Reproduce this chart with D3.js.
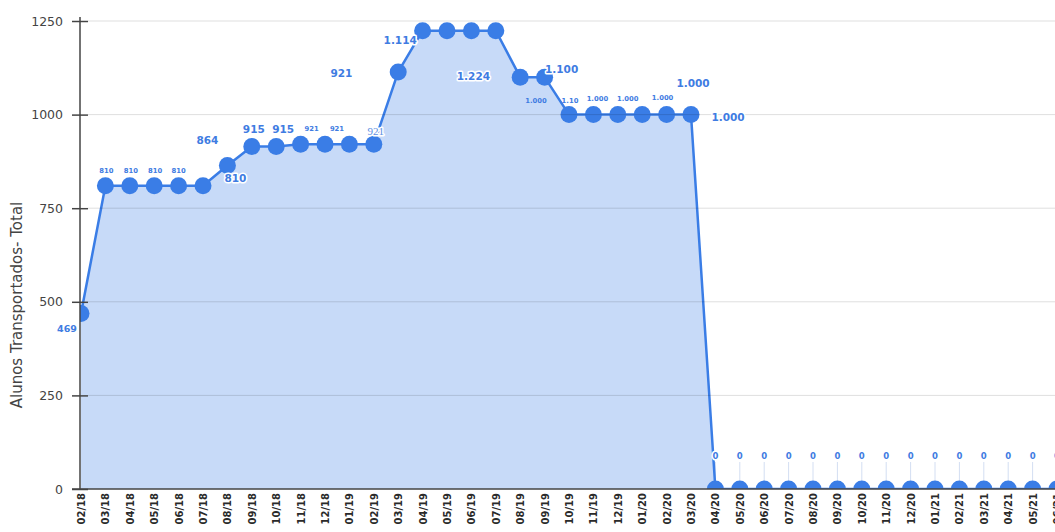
<!DOCTYPE html>
<html>
<head>
<meta charset="utf-8">
<script src="https://cdn.jsdelivr.net/npm/d3@7"></script>
<style>
  html, body { margin: 0; padding: 0; background: #fff; overflow: hidden; }
  svg { display: block; }
</style>
</head>
<body>
<svg id="chart" width="1055" height="532"></svg>
<script>
// ---- data ----
const categories = [
  "02/18","03/18","04/18","05/18","06/18","07/18","08/18","09/18","10/18","11/18","12/18",
  "01/19","02/19","03/19","04/19","05/19","06/19","07/19","08/19","09/19","10/19","11/19","12/19",
  "01/20","02/20","03/20","04/20","05/20","06/20","07/20","08/20","09/20","10/20","11/20","12/20",
  "01/21","02/21","03/21","04/21","05/21","06/21"
];
const values = [
  469, 810, 810, 810, 810, 810, 864, 915, 915, 921, 921,
  921, 921, 1114, 1224, 1224, 1224, 1224, 1100, 1100, 1000, 1000, 1000,
  1000, 1000, 1000, 0, 0, 0, 0, 0, 0, 0, 0, 0,
  0, 0, 0, 0, 0, 0
];
const yTicks = [0, 250, 500, 750, 1000, 1250];
const yTitle = "Alunos Transportados- Total";

// data label texts (as shown in the picture), keyed by category index
const labelTexts = [
  {i: 0, t: "469"},
  {i: 1, t: "810"}, {i: 2, t: "810"}, {i: 3, t: "810"}, {i: 4, t: "810"},
  {i: 6, t: "864"}, {i: 6, t: "810"},
  {i: 7, t: "915"}, {i: 8, t: "915"},
  {i: 9, t: "921"}, {i: 10, t: "921"}, {i: 11, t: "921"}, {i: 12, t: "921"},
  {i: 13, t: "1.114"}, {i: 16, t: "1.224"}, {i: 19, t: "1.100"},
  {i: 20, t: "1.000"}, {i: 20, t: "1.10"}, {i: 21, t: "1.000"}, {i: 22, t: "1.000"}, {i: 24, t: "1.000"},
  {i: 25, t: "1.000"}, {i: 25, t: "1.000"}
];
// layout of those labels (offsets from their point, size class)
const labelLayout = [
  {dx: -14, dy: 15, s: "m"},
  {dx: 1, dy: -15, s: "t"}, {dx: 1, dy: -15, s: "t"}, {dx: 1, dy: -15, s: "t"}, {dx: 0, dy: -15, s: "t"},
  {dx: -20, dy: -26, s: "b"}, {dx: 8, dy: 12, s: "b"},
  {dx: 2, dy: -17, s: "b"}, {dx: 7, dy: -17, s: "b"},
  {dx: 11, dy: -15, s: "t"}, {dx: 12, dy: -15, s: "t"}, {dx: -8, dy: -71, s: "b"}, {dx: 2, dy: -13, s: "serif"},
  {dx: 2, dy: -32, s: "b"}, {dx: 2, dy: 45, s: "b"}, {dx: 17, dy: -8, s: "b"},
  {dx: -33, dy: -14, s: "t"}, {dx: 1, dy: -14, s: "t"}, {dx: 4, dy: -16, s: "t"}, {dx: 10, dy: -16, s: "t"}, {dx: -4, dy: -17, s: "t"},
  {dx: 2, dy: -32, s: "b"}, {dx: 37, dy: 2, s: "b"}
];

// ---- drawing ----
const W = 1055, H = 532;
const svg = d3.select("#chart");
const blue = "#3a7de6";
const labelBlue = "#3f7ce2";

const x = d3.scalePoint().domain(categories).range([81, 1057]);
const y = d3.scaleLinear().domain([0, 1250]).range([489, 21]);

const defs = svg.append("defs");
defs.append("clipPath").attr("id", "plotclip")
  .append("rect").attr("x", 80).attr("y", 0).attr("width", W - 80).attr("height", 489);

const plot = svg.append("g").attr("clip-path", "url(#plotclip)");

const series = categories.map((c, i) => ({c, v: values[i]}));

// area
plot.append("path")
  .datum(series)
  .attr("fill", "#c7daf8")
  .attr("d", d3.area().x(d => x(d.c)).y0(y(0)).y1(d => y(d.v)));

// gridlines
svg.append("g").selectAll("line").data(yTicks.filter(t => t > 0)).join("line")
  .attr("x1", 88).attr("x2", W)
  .attr("y1", d => y(d)).attr("y2", d => y(d))
  .attr("stroke", "rgba(0,0,0,0.13)").attr("stroke-width", 1);

// leader lines for zero labels
plot.append("g").selectAll("line").data(series.filter(d => d.v === 0)).join("line")
  .attr("x1", d => x(d.c)).attr("x2", d => x(d.c))
  .attr("y1", d => y(d.v) - 27).attr("y2", d => y(d.v) - 8)
  .attr("stroke", "#d3def2").attr("stroke-width", 1);

// line
plot.append("path")
  .datum(series)
  .attr("fill", "none").attr("stroke", blue).attr("stroke-width", 2.5)
  .attr("stroke-linejoin", "round")
  .attr("d", d3.line().x(d => x(d.c)).y(d => y(d.v)));

// points
plot.append("g").selectAll("circle").data(series).join("circle")
  .attr("cx", d => x(d.c)).attr("cy", d => y(d.v)).attr("r", 8.5)
  .attr("fill", blue);

// y axis
const yAxis = svg.append("g").attr("transform", "translate(80,0)")
  .call(d3.axisLeft(y).tickValues(yTicks).tickFormat(d3.format("d")).tickSize(8).tickPadding(9));
yAxis.select(".domain").attr("stroke", "#444").attr("stroke-width", 1.5)
  .attr("d", `M0,${y(0)}V${y(1250) - 4}`);
yAxis.selectAll(".tick line").attr("x1", 8).attr("stroke", "#444").attr("stroke-width", 1.5);
yAxis.selectAll(".tick text")
  .attr("font-family", "DejaVu Sans, sans-serif").attr("font-size", 12.5).attr("fill", "#444");

// x axis
const xAxis = svg.append("g").attr("transform", `translate(0,${y(0)})`)
  .call(d3.axisBottom(x).tickSize(0).tickPadding(0));
xAxis.select(".domain").attr("stroke", "#444").attr("stroke-width", 1.5)
  .attr("d", `M72,0H${W}`);
xAxis.selectAll(".tick text")
  .attr("font-family", "DejaVu Sans, sans-serif").attr("font-weight", "bold")
  .attr("font-size", 10).attr("fill", "#2a2a2a")
  .attr("transform", "rotate(-90)")
  .attr("text-anchor", "end").attr("dy", "0.35em").attr("x", -4).attr("y", 0);

// y title
svg.append("text")
  .attr("transform", `translate(22,${(y(0) + y(1250)) / 2 + 50}) rotate(-90)`)
  .attr("text-anchor", "middle")
  .attr("font-family", "DejaVu Sans, sans-serif").attr("font-size", 15).attr("fill", "#444")
  .text(yTitle);

// data labels
const labelG = svg.append("g");
const styles = {
  t: {size: 6.8, weight: "bold", family: "DejaVu Sans, sans-serif", fill: labelBlue, halo: 0},
  m: {size: 9.5, weight: "bold", family: "DejaVu Sans, sans-serif", fill: labelBlue, halo: 0},
  b: {size: 10.5, weight: "bold", family: "DejaVu Sans, sans-serif", fill: labelBlue, halo: 3},
  serif: {size: 11, weight: "normal", family: "Liberation Serif, serif", fill: "#5b8fe2", halo: 3}
};
labelTexts.forEach((l, k) => {
  const lay = labelLayout[k];
  const st = styles[lay.s];
  labelG.append("text")
    .attr("x", x(categories[l.i]) + lay.dx)
    .attr("y", y(values[l.i]) + lay.dy)
    .attr("text-anchor", "middle").attr("dominant-baseline", "central")
    .attr("font-family", st.family).attr("font-weight", st.weight)
    .attr("font-size", st.size).attr("fill", st.fill)
    .attr("stroke", "#fff").attr("stroke-width", st.halo).attr("paint-order", "stroke")
    .attr("stroke-linejoin", "round")
    .text(l.t);
});

// zero labels
labelG.selectAll("text.zero").data(series.filter(d => d.v === 0)).join("text")
  .attr("class", "zero")
  .attr("x", d => x(d.c)).attr("y", d => y(d.v) - 33)
  .attr("text-anchor", "middle").attr("dominant-baseline", "central")
  .attr("font-family", "DejaVu Sans, sans-serif").attr("font-weight", "bold")
  .attr("font-size", 8.5).attr("fill", labelBlue)
  .attr("stroke", "#fff").attr("stroke-width", 3).attr("paint-order", "stroke")
  .text(d => String(d.v));
</script>
</body>
</html>
